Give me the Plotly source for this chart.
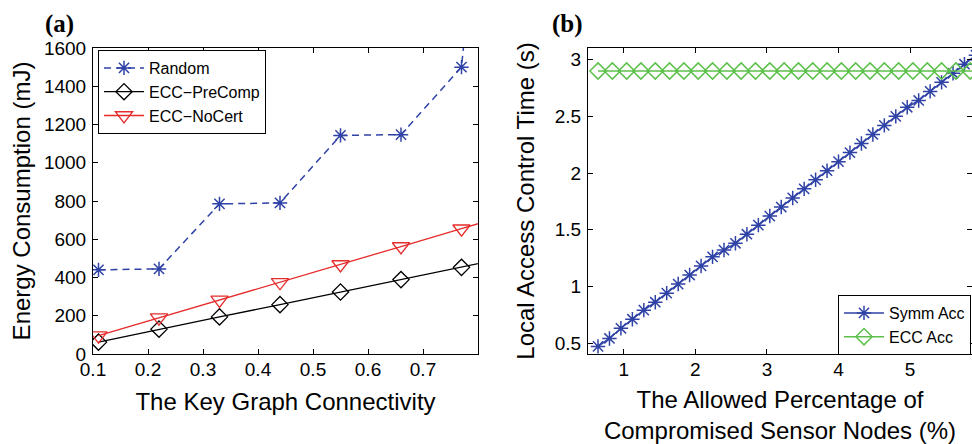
import plotly.graph_objects as go

# ---- Panel (a) data ----
conn_x = [0.11, 0.22, 0.33, 0.44, 0.55, 0.66, 0.77, 0.88]
random_mj = [440, 445, 785, 790, 1143, 1147, 1500, 4700]
precomp_mj = [62, 130, 194, 258, 324, 389, 453, 520]
nocert_mj = [96, 190, 283, 375, 468, 562, 655, 750]

# ---- Panel (b) data ----
symm_x = [0.64 + 0.16 * k for k in range(34)]
symm_t = [0.47, 0.54, 0.63, 0.71, 0.79, 0.86, 0.94, 1.02, 1.10, 1.18, 1.26, 1.32,
          1.38, 1.46, 1.54, 1.62, 1.70, 1.78, 1.86, 1.94, 2.02, 2.10, 2.18, 2.26,
          2.34, 2.42, 2.50, 2.58, 2.64, 2.72, 2.80, 2.88, 2.96, 3.04]
ecc_x = [0.64 + 0.2 * k for k in range(28)]
ecc_t = [2.9] * 28

a_yticks = [0, 200, 400, 600, 800, 1000, 1200, 1400, 1600]
a_xticks = [0.1, 0.2, 0.3, 0.4, 0.5, 0.6, 0.7]
b_xticks = [1, 2, 3, 4, 5]
b_yticks = [0.5, 1, 1.5, 2, 2.5, 3]

BLUE = "#2f42a6"
RED = "#e52b2b"
GREEN = "#5cc04a"
FONT = "Liberation Sans, Arial, sans-serif"

fig = go.Figure()

fig.add_trace(go.Scatter(
    x=conn_x, y=random_mj, name="Random", mode="lines+markers",
    line=dict(color=BLUE, width=1.5, dash="7px,5px"),
    marker=dict(symbol="asterisk-open", size=12, color=BLUE, line=dict(color=BLUE, width=1.5)),
    xaxis="x", yaxis="y", legend="legend"))
fig.add_trace(go.Scatter(
    x=conn_x, y=precomp_mj, name="ECC\u2212PreComp", mode="lines+markers",
    line=dict(color="black", width=1.3),
    marker=dict(symbol="diamond-open", size=12.5, color="black", line=dict(color="black", width=1.3)),
    xaxis="x", yaxis="y", legend="legend"))
fig.add_trace(go.Scatter(
    x=conn_x, y=nocert_mj, name="ECC\u2212NoCert", mode="lines+markers",
    line=dict(color=RED, width=1.3),
    marker=dict(symbol="triangle-down-open", size=15, color=RED, line=dict(color=RED, width=1.3)),
    xaxis="x", yaxis="y", legend="legend"))

fig.add_trace(go.Scatter(
    x=symm_x, y=symm_t, name="Symm Acc", mode="lines+markers",
    line=dict(color=BLUE, width=1.5),
    marker=dict(symbol="asterisk-open", size=12, color=BLUE, line=dict(color=BLUE, width=1.5)),
    xaxis="x2", yaxis="y2", legend="legend2"))
fig.add_trace(go.Scatter(
    x=ecc_x, y=ecc_t, name="ECC Acc", mode="lines+markers",
    line=dict(color=GREEN, width=1.5),
    marker=dict(symbol="diamond-open", size=12.5, color=GREEN, line=dict(color=GREEN, width=1.5)),
    xaxis="x2", yaxis="y2", legend="legend2"))

ydom = [1 - 354 / 444, 1 - 48 / 444]
axis_common = dict(showline=True, linecolor="black", linewidth=1, mirror="ticks",
                   ticks="inside", ticklen=5, tickcolor="black", showgrid=False,
                   zeroline=False, tickfont=dict(family=FONT, size=19, color="black"),
                   automargin=False)

fig.update_layout(
    width=972, height=444, margin=dict(l=0, r=0, t=0, b=0),
    paper_bgcolor="white", plot_bgcolor="white",
    font=dict(family=FONT, color="black"),
    xaxis=dict(domain=[93 / 972, 478 / 972], range=[0.1, 0.8], tickvals=a_xticks,
               ticktext=[str(v) for v in a_xticks], anchor="y",
               title=dict(text="The Key Graph Connectivity", font=dict(size=24), standoff=14),
               ticklabelstandoff=-2, **axis_common),
    yaxis=dict(domain=ydom, range=[0, 1600], tickvals=a_yticks, anchor="x",
               title=dict(text="Energy Consumption (mJ)", font=dict(size=24), standoff=6),
               ticklabelstandoff=2, **axis_common),
    xaxis2=dict(domain=[588 / 972, 1.0], range=[0.5, 5.865], tickvals=b_xticks, anchor="y2",
                title=dict(text="The Allowed Percentage of<br>Compromised Sensor Nodes (%)",
                           font=dict(size=24), standoff=18),
                ticklabelstandoff=-2, **axis_common),
    yaxis2=dict(domain=ydom, range=[0.403, 3.103], tickvals=b_yticks,
                ticktext=["0.5", "1", "1.5", "2", "2.5", "3"], anchor="x2",
                title=dict(text="Local Access Control Time (s)", font=dict(size=24), standoff=13),
                ticklabelstandoff=2, **axis_common),
    legend=dict(x=98 / 972, y=1 - 50 / 444, xanchor="left", yanchor="top",
                bgcolor="white", bordercolor="black", borderwidth=1, itemwidth=40,
                font=dict(family=FONT, size=16, color="black"), tracegroupgap=0),
    legend2=dict(x=838 / 972, y=1 - 355 / 444, xanchor="left", yanchor="bottom",
                 bgcolor="white", bordercolor="black", borderwidth=1, itemwidth=40,
                 font=dict(family=FONT, size=16, color="black")),
    showlegend=True,
)

fig.add_annotation(text="<b>(a)</b>", x=43 / 972, y=1 - 24 / 444, xref="paper", yref="paper",
                   xanchor="left", yanchor="middle", showarrow=False,
                   font=dict(family="Liberation Serif, Times New Roman, serif", size=25, color="black"))
fig.add_annotation(text="<b>(b)</b>", x=550 / 972, y=1 - 24 / 444, xref="paper", yref="paper",
                   xanchor="left", yanchor="middle", showarrow=False,
                   font=dict(family="Liberation Serif, Times New Roman, serif", size=25, color="black"))

fig.write_html("out.html", config={"displayModeBar": False},
               post_script="document.body.style.margin='0';document.body.style.overflow='hidden';")
